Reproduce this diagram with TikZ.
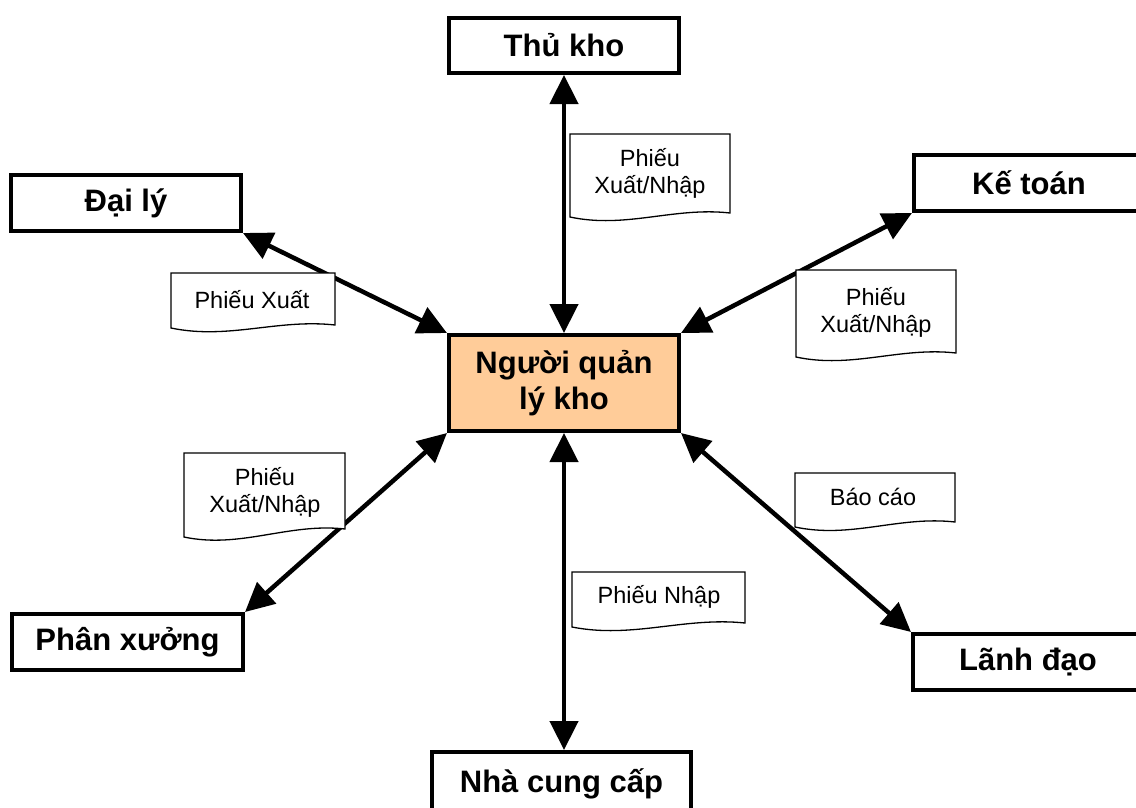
\documentclass[tikz,border=0pt]{standalone}
\usepackage{fontspec}
\setmainfont{Liberation Sans}
\usetikzlibrary{arrows.meta}
\definecolor{peach}{RGB}{255,204,153}
\newcommand\docpath[5]{%
  \path[docline] (#1,#2) -- (#3,#2) -- (#3,{#4-#5})
    .. controls ({#1+0.65*(#3-#1)},{#4-#5-6.4}) and ({#1+0.35*(#3-#1)},{#4+12}) .. (#1,#4) -- cycle;}
\begin{document}
\begin{tikzpicture}[x=1pt,y=-1pt,
  box/.style={draw, line width=4pt, inner sep=0pt, minimum width=230pt, minimum height=56pt,
    font=\fontsize{31}{36}\selectfont\bfseries, align=center, fill=white},
  arr/.style={line width=4.5pt, {Triangle[length=29pt,width=28pt]}-{Triangle[length=29pt,width=28pt]}},
  docline/.style={draw, line width=1.3pt, fill=white, line join=miter},
  doctext/.style={font=\fontsize{23.5}{27}\selectfont, align=center, inner sep=0pt}]
\useasboundingbox (0,0) rectangle (1136,807);
\fill[white] (0,0) rectangle (1136,807);
\clip (0,0) rectangle (1136,807);

% nodes
\node[box, minimum height=55pt] (thukho) at (564,45.5) {Thủ kho};
\node[box] (daily) at (126,203) {Đại lý};
\node[box] (ketoan) at (1029,183) {Kế toán};
\node[box, fill=peach, minimum height=96pt] (ql) at (564,383) {Người quản\\lý kho};
\node[box, minimum width=231pt] (phanxuong) at (127.5,642) {Phân xưởng};
\node[box] (lanhdao) at (1028,662) {Lãnh đạo};
\node[box, minimum width=259pt, minimum height=64pt] (nhacc) at (561.5,784) {Nhà cung cấp};

% connectors
\draw[arr] (thukho.south) -- (ql.north);
\draw[arr] (ql.south) -- (ql.south |- nhacc.north);
\draw[arr] (daily.south east) -- (ql.north west);
\draw[arr] (ketoan.south west) -- (ql.north east);
\draw[arr] (phanxuong.north east) -- (ql.south west);
\draw[arr] (lanhdao.north west) -- (ql.south east);

% documents
\docpath{171}{273}{335}{328}{3}
\node[doctext] (d1) at (252,300) {Phiếu Xuất};
\docpath{570}{134}{730}{217}{4}
\node[doctext] (d2) at (650,173) {Phiếu\\Xuất/Nhập};
\docpath{796}{270}{956}{357}{4}
\node[doctext] (d3) at (876,312) {Phiếu\\Xuất/Nhập};
\docpath{184}{453}{345}{537}{8}
\node[doctext] (d4) at (265,492) {Phiếu\\Xuất/Nhập};
\docpath{795}{473}{955}{527}{5}
\node[doctext] (d5) at (873,497) {Báo cáo};
\docpath{572}{572}{745}{627}{4}
\node[doctext] (d6) at (659,597) {Phiếu Nhập};
\end{tikzpicture}
\end{document}
